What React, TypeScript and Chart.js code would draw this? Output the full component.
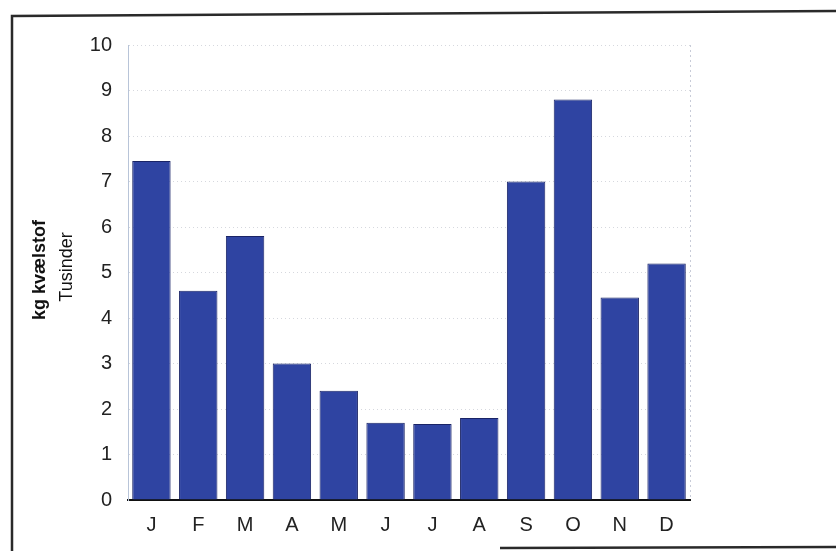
import React, { useEffect, useRef } from "react";
import { Chart, registerables } from "chart.js";

Chart.register(...registerables);

const months = ["J", "F", "M", "A", "M", "J", "J", "A", "S", "O", "N", "D"];
const values = [7.45, 4.6, 5.8, 3.0, 2.4, 1.7, 1.67, 1.8, 7.0, 8.8, 4.45, 5.2];
const yTitleLines = ["kg kvælstof", "Tusinder"];

const framePlugin = {
  id: "frame",
  afterDraw(chart: any) {
    const ctx = chart.ctx;
    const a = chart.chartArea;
    ctx.save();
    // dotted right edge of plot
    ctx.strokeStyle = "#c8ccd8";
    ctx.lineWidth = 1;
    ctx.setLineDash([2, 3]);
    ctx.beginPath();
    ctx.moveTo(a.right + 0.5, a.top);
    ctx.lineTo(a.right + 0.5, a.bottom);
    ctx.stroke();
    ctx.setLineDash([]);
    // outer frame
    ctx.strokeStyle = "#2a2a2a";
    ctx.lineWidth = 2.5;
    ctx.beginPath();
    ctx.moveTo(12, 551);
    ctx.lineTo(12, 16);
    ctx.lineTo(836, 11);
    ctx.stroke();
    ctx.beginPath();
    ctx.moveTo(500, 548);
    ctx.lineTo(836, 547);
    ctx.stroke();
    // y title
    ctx.fillStyle = "#111";
    ctx.textAlign = "center";
    ctx.textBaseline = "middle";
    ctx.translate(40, 270);
    ctx.rotate(-Math.PI / 2);
    ctx.font = "bold 18px 'Liberation Sans', Arial, sans-serif";
    ctx.fillText(yTitleLines[0], 0, 0);
    ctx.font = "18px 'Liberation Sans', Arial, sans-serif";
    ctx.fillText(yTitleLines[1], 3, 27);
    ctx.restore();
  },
};

export default function App() {
  const ref = useRef<HTMLCanvasElement>(null);
  useEffect(() => {
    document.body.style.margin = "0";
    const chart = new Chart(ref.current!, {
      type: "bar",
      data: {
        labels: months,
        datasets: [
          {
            data: values,
            backgroundColor: "#2f44a2",
            borderColor: "#1a2466",
            borderWidth: 1,
            borderSkipped: "bottom",
            barPercentage: 0.82,
            categoryPercentage: 1,
          },
        ],
      },
      options: {
        animation: false,
        responsive: false,
        maintainAspectRatio: false,
        layout: { padding: { left: 0, right: 146, top: 45, bottom: 0 } },
        plugins: { legend: { display: false }, tooltip: { enabled: false } },
        scales: {
          x: {
            grid: { display: false, drawTicks: false },
            border: { display: true, color: "#111", width: 2 },
            ticks: {
              color: "#222",
              padding: 13,
              font: { family: "'Liberation Sans', Arial, sans-serif", size: 20 },
            },
            afterFit: (s: any) => {
              s.height = 51;
            },
          },
          y: {
            min: 0,
            max: 10,
            grid: { color: "#d6d8de", drawTicks: false, lineWidth: 1 },
            border: { display: true, color: "#b8c4d8", width: 1, dash: [1, 3] },
            ticks: {
              stepSize: 1,
              color: "#222",
              padding: 16,
              font: { family: "'Liberation Sans', Arial, sans-serif", size: 20 },
            },
            afterFit: (s: any) => {
              s.width = 128;
            },
          },
        },
      },
      plugins: [framePlugin],
    });
    return () => chart.destroy();
  }, []);
  return (
    <div style={{ position: "absolute", left: 0, top: 0, width: 836, height: 551, background: "#fff" }}>
      <canvas ref={ref} width={836} height={551} />
    </div>
  );
}
